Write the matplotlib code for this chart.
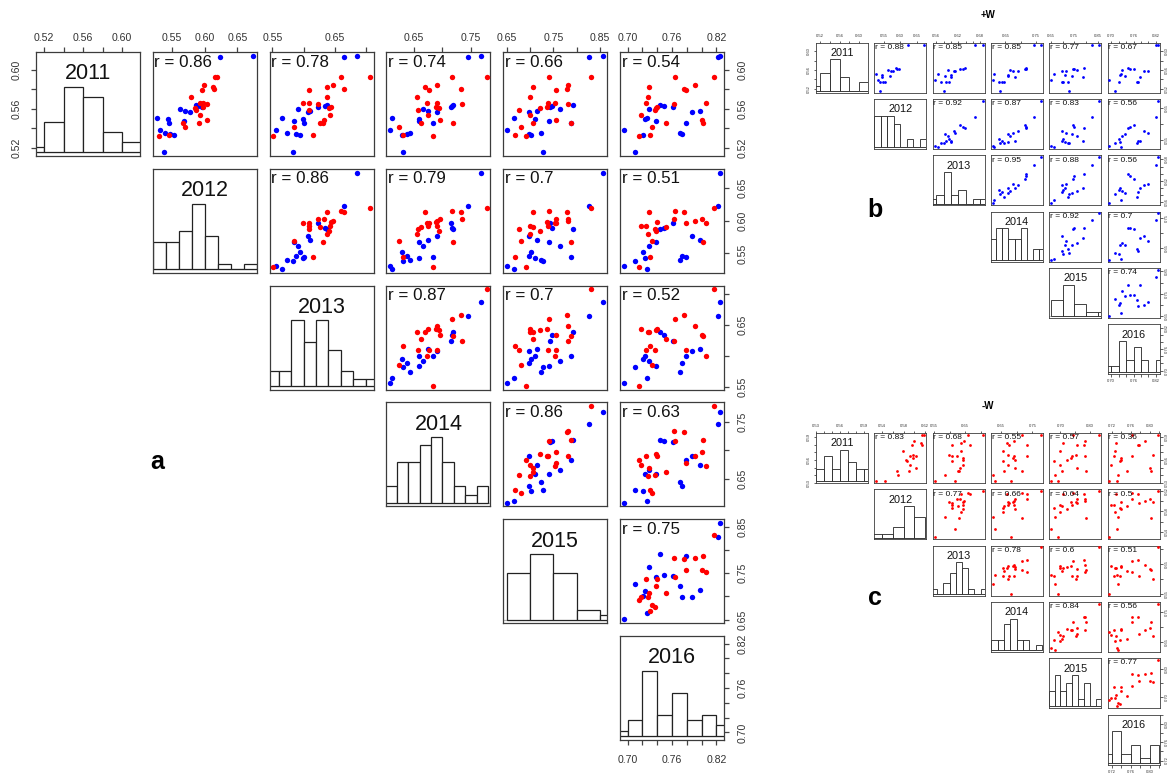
import numpy as np
import matplotlib
matplotlib.use("Agg")
import matplotlib.pyplot as plt

plt.rcParams["font.family"] = ["Liberation Sans", "DejaVu Sans"]

years = ["2011", "2012", "2013", "2014", "2015", "2016"]

# Sites with a positive W response (blue)
plus_2011 = [0.6144, 0.6137, 0.5640, 0.5628, 0.5615, 0.5600, 0.5580, 0.5570, 0.5510,
             0.5500, 0.5478, 0.5455, 0.5382, 0.5355, 0.5345, 0.5337, 0.5156]
plus_2012 = [0.674, 0.623, 0.587, 0.589, 0.596, 0.562, 0.570, 0.577, 0.526,
             0.543, 0.568, 0.545, 0.531, 0.539, 0.546, 0.552, 0.538]
plus_2013 = [0.6866, 0.6646, 0.6375, 0.634, 0.624, 0.5916, 0.610, 0.6078, 0.5646,
             0.5997, 0.584, 0.600, 0.5554, 0.5732, 0.5878, 0.5942, 0.5824]
plus_2014 = [0.7666, 0.7452, 0.7184, 0.7161, 0.7143, 0.6654, 0.6743, 0.6904, 0.6118,
             0.6595, 0.6595, 0.683, 0.6090, 0.644, 0.638, 0.6291, 0.6309]
plus_2015 = [0.8575, 0.8272, 0.7913, 0.7467, 0.743, 0.7634, 0.7144, 0.6985, 0.6645,
             0.7107, 0.7415, 0.7876, 0.6505, 0.7232, 0.6975, 0.7012, 0.7269]
plus_2016 = [0.8250, 0.8215, 0.7441, 0.7497, 0.7620, 0.7291, 0.7981, 0.7874, 0.7261,
             0.724, 0.7382, 0.7784, 0.6950, 0.7703, 0.7733, 0.721, 0.7104]

# Sites with a negative W response (red)
minus_2011 = [0.5931, 0.5924, 0.5846, 0.5821, 0.5800, 0.5794, 0.5725, 0.5660, 0.5656, 0.5652,
              0.5622, 0.5605, 0.5590, 0.5540, 0.5490, 0.5460, 0.5450, 0.5409, 0.5330, 0.5322]
minus_2012 = [0.619, 0.615, 0.599, 0.613, 0.614, 0.596, 0.579, 0.597, 0.592, 0.603,
              0.598, 0.585, 0.587, 0.592, 0.603, 0.591, 0.567, 0.569, 0.545, 0.529]
minus_2013 = [0.7067, 0.6597, 0.6472, 0.638, 0.665, 0.6094, 0.638, 0.5997, 0.6094, 0.624,
              0.6435, 0.6418, 0.6094, 0.6429, 0.633, 0.6273, 0.631, 0.5851, 0.616, 0.5516]
minus_2014 = [0.7768, 0.7171, 0.6904, 0.6696, 0.7321, 0.6773, 0.6559, 0.6725, 0.6904, 0.7332,
              0.6893, 0.6934, 0.6577, 0.6743, 0.6964, 0.6618, 0.7184, 0.625, 0.6309, 0.6832]
minus_2015 = [0.8316, 0.7415, 0.7819, 0.7071, 0.7797, 0.7562, 0.699, 0.7525, 0.7379, 0.7819,
              0.7364, 0.7217, 0.677, 0.6990, 0.7562, 0.7063, 0.7876, 0.6808, 0.6682, 0.6918]
minus_2016 = [0.817, 0.7638, 0.7913, 0.7291, 0.7767, 0.7788, 0.7274, 0.8063, 0.7248, 0.7625,
              0.7402, 0.739, 0.737, 0.718, 0.8003, 0.7518, 0.8024, 0.7325, 0.7304, 0.7154]

# Pearson r printed in the upper panels, row by row
r_all = [[0.86, 0.78, 0.74, 0.66, 0.54],
         [0.86, 0.79, 0.7, 0.51],
         [0.87, 0.7, 0.52],
         [0.86, 0.63],
         [0.75]]
r_plus = [[0.88, 0.85, 0.85, 0.77, 0.67],
          [0.92, 0.87, 0.83, 0.56],
          [0.95, 0.88, 0.56],
          [0.92, 0.7],
          [0.74]]
r_minus = [[0.83, 0.68, 0.55, 0.57, 0.36],
           [0.77, 0.66, 0.64, 0.5],
           [0.78, 0.6, 0.51],
           [0.84, 0.56],
           [0.77]]

plus = [plus_2011, plus_2012, plus_2013, plus_2014, plus_2015, plus_2016]
minus = [minus_2011, minus_2012, minus_2013, minus_2014, minus_2015, minus_2016]

FIG_W, FIG_H = 1171, 774
fig = plt.figure(figsize=(FIG_W / 100, FIG_H / 100), dpi=100)
fig.patch.set_facecolor("white")

BOX = "#3c3c3c"
TICKC = "#444444"


def add_ax(left_px, top_px, w_px, h_px):
    return fig.add_axes([left_px / FIG_W, 1 - (top_px + h_px) / FIG_H,
                         w_px / FIG_W, h_px / FIG_H])


def r_pretty(lo, hi, n, h=1.5, h5=2.75):
    """Break points in the style of R's pretty(); axes use h=0.8, h5=1.7."""
    dx = hi - lo
    cell = dx / n
    U = 10 ** np.floor(np.log10(cell))
    unit = U
    if 2 * U - cell < h * (cell - unit):
        unit = 2 * U
        if 5 * U - cell < h5 * (cell - unit):
            unit = 5 * U
            if 10 * U - cell < h * (cell - unit):
                unit = 10 * U
    ns = np.floor(lo / unit + 1e-7)
    nu = np.ceil(hi / unit - 1e-7)
    return np.round(np.arange(ns, nu + 0.5) * unit, 10), unit


def axis_ticks(lo, hi, span_px, min_gap_px):
    ticks, unit = r_pretty(lo, hi, 5, h=0.8, h5=1.7)
    fuzz = 1e-7 * (hi - lo)
    ticks = ticks[(ticks >= lo - fuzz) & (ticks <= hi + fuzz)]
    step_px = unit * span_px / (hi - lo)
    k = int(np.ceil(min_gap_px / step_px - 1e-9))
    labels = [f"{t:.2f}" if idx % k == 0 else "" for idx, t in enumerate(ticks)]
    return ticks, labels


def draw_pairs(groups, r_text, x0, y0, w, h, px, py, st):
    n = len(years)
    cols = [np.concatenate([np.asarray(g[0][k], float) for g in groups]) for k in range(n)]
    lims = []
    for v in cols:
        pad = 0.04 * (v.max() - v.min())
        lims.append((v.min() - pad, v.max() + pad))

    for i in range(n):
        for j in range(i, n):
            ax = add_ax(x0 + j * px, y0 + i * py, w, h)
            ax.set_xlim(lims[j])
            ax.set_ylim(lims[i])
            for sp in ax.spines.values():
                sp.set_color(BOX)
                sp.set_linewidth(st["lw"])
            ax.tick_params(which="both", top=False, bottom=False, left=False, right=False,
                           labeltop=False, labelbottom=False, labelleft=False, labelright=False)

            if i == j:
                vals = cols[i]
                nb = int(np.ceil(np.log2(len(vals)) + 1))
                br, _ = r_pretty(vals.min(), vals.max(), nb)
                idx = np.clip(np.searchsorted(br, vals - 1e-12, side="left") - 1, 0, len(br) - 2)
                counts = np.bincount(idx, minlength=len(br) - 1)
                ylo, yhi = lims[i]
                base = ylo + 0.035 * (yhi - ylo)
                heights = counts / counts.max() * 0.63 * (yhi - ylo)
                ax.axhline(base, color="#b0b0b0", lw=st["lw"], zorder=1)
                ax.bar(br[:-1], heights, width=np.diff(br), align="edge", bottom=base,
                       color="white", edgecolor="#222222", linewidth=st["lw"], zorder=2)
                ax.text(0.5, 0.79, years[i], transform=ax.transAxes, ha="center",
                        va="center", fontsize=st["year_fs"], color="#111111", zorder=3)
            else:
                for vals_by_year, color in groups:
                    ax.scatter(vals_by_year[j], vals_by_year[i], s=st["ms"], c=color,
                               linewidths=0, zorder=3)
                ax.text(0.015, 0.975, f"r = {r_text[i][j - i - 1]:g}", transform=ax.transAxes,
                        ha="left", va="top", fontsize=st["r_fs"], color="#111111", zorder=4)

            tick_kw = dict(length=st["tl"], width=st["lw"], colors=TICKC,
                           labelsize=st["tick_fs"], labelcolor="#333333")
            if i == 0:
                t, lab = axis_ticks(*lims[j], w, st["gap"])
                ax.set_xticks(t)
                ax.set_xticklabels(lab)
                ax.tick_params(axis="x", top=True, labeltop=True, pad=st["pad_x"], **tick_kw)
            if i == n - 1 and j == n - 1:
                t, lab = axis_ticks(*lims[j], w, st["gap"])
                ax.set_xticks(t)
                ax.set_xticklabels(lab)
                ax.tick_params(axis="x", bottom=True, labelbottom=True, pad=st["pad_xb"], **tick_kw)
            if j == n - 1 or (i == 0 and j == 0):
                t, lab = axis_ticks(*lims[i], h, st["gap"])
                ax.set_yticks(t)
                ax.set_yticklabels(lab, rotation=90, va="center")
                if j == n - 1:
                    ax.tick_params(axis="y", right=True, labelright=True, pad=st["pad_y"], **tick_kw)
                if j == 0:
                    ax.tick_params(axis="y", left=True, labelleft=True, pad=st["pad_y"], **tick_kw)


big = dict(lw=0.9, ms=15, r_fs=12.2, year_fs=15.5, tick_fs=7.6, tl=3.6,
           pad_x=3.0, pad_xb=7.0, pad_y=6.5, gap=32.2)
small = dict(lw=0.6, ms=4, r_fs=6.0, year_fs=7.8, tick_fs=3.0, tl=1.8,
             pad_x=1.5, pad_xb=2.0, pad_y=2.0, gap=16.0)

# Panel a: both groups together
draw_pairs([(plus, "#0000ff"), (minus, "#ff0000")], r_all,
           36, 52, 104, 104, 116.8, 116.8, big)
# Panel b: +W sites only
draw_pairs([(plus, "#0000ff")], r_plus, 816, 42.7, 52, 50, 58.3, 56.3, small)
# Panel c: -W sites only
draw_pairs([(minus, "#ff0000")], r_minus, 816, 433, 52, 50, 58.3, 56.3, small)

fig.text(157 / FIG_W, 1 - 462 / FIG_H, "a", ha="center", va="center",
         fontsize=18, fontweight="bold")
fig.text(875 / FIG_W, 1 - 210 / FIG_H, "b", ha="center", va="center",
         fontsize=18, fontweight="bold")
fig.text(875 / FIG_W, 1 - 598 / FIG_H, "c", ha="center", va="center",
         fontsize=18, fontweight="bold")
fig.text(988 / FIG_W, 1 - 15 / FIG_H, "+W", ha="center", va="center",
         fontsize=7, fontweight="bold")
fig.text(988 / FIG_W, 1 - 406 / FIG_H, "-W", ha="center", va="center",
         fontsize=7, fontweight="bold")

fig.savefig("out.png", dpi=100, facecolor="white")
